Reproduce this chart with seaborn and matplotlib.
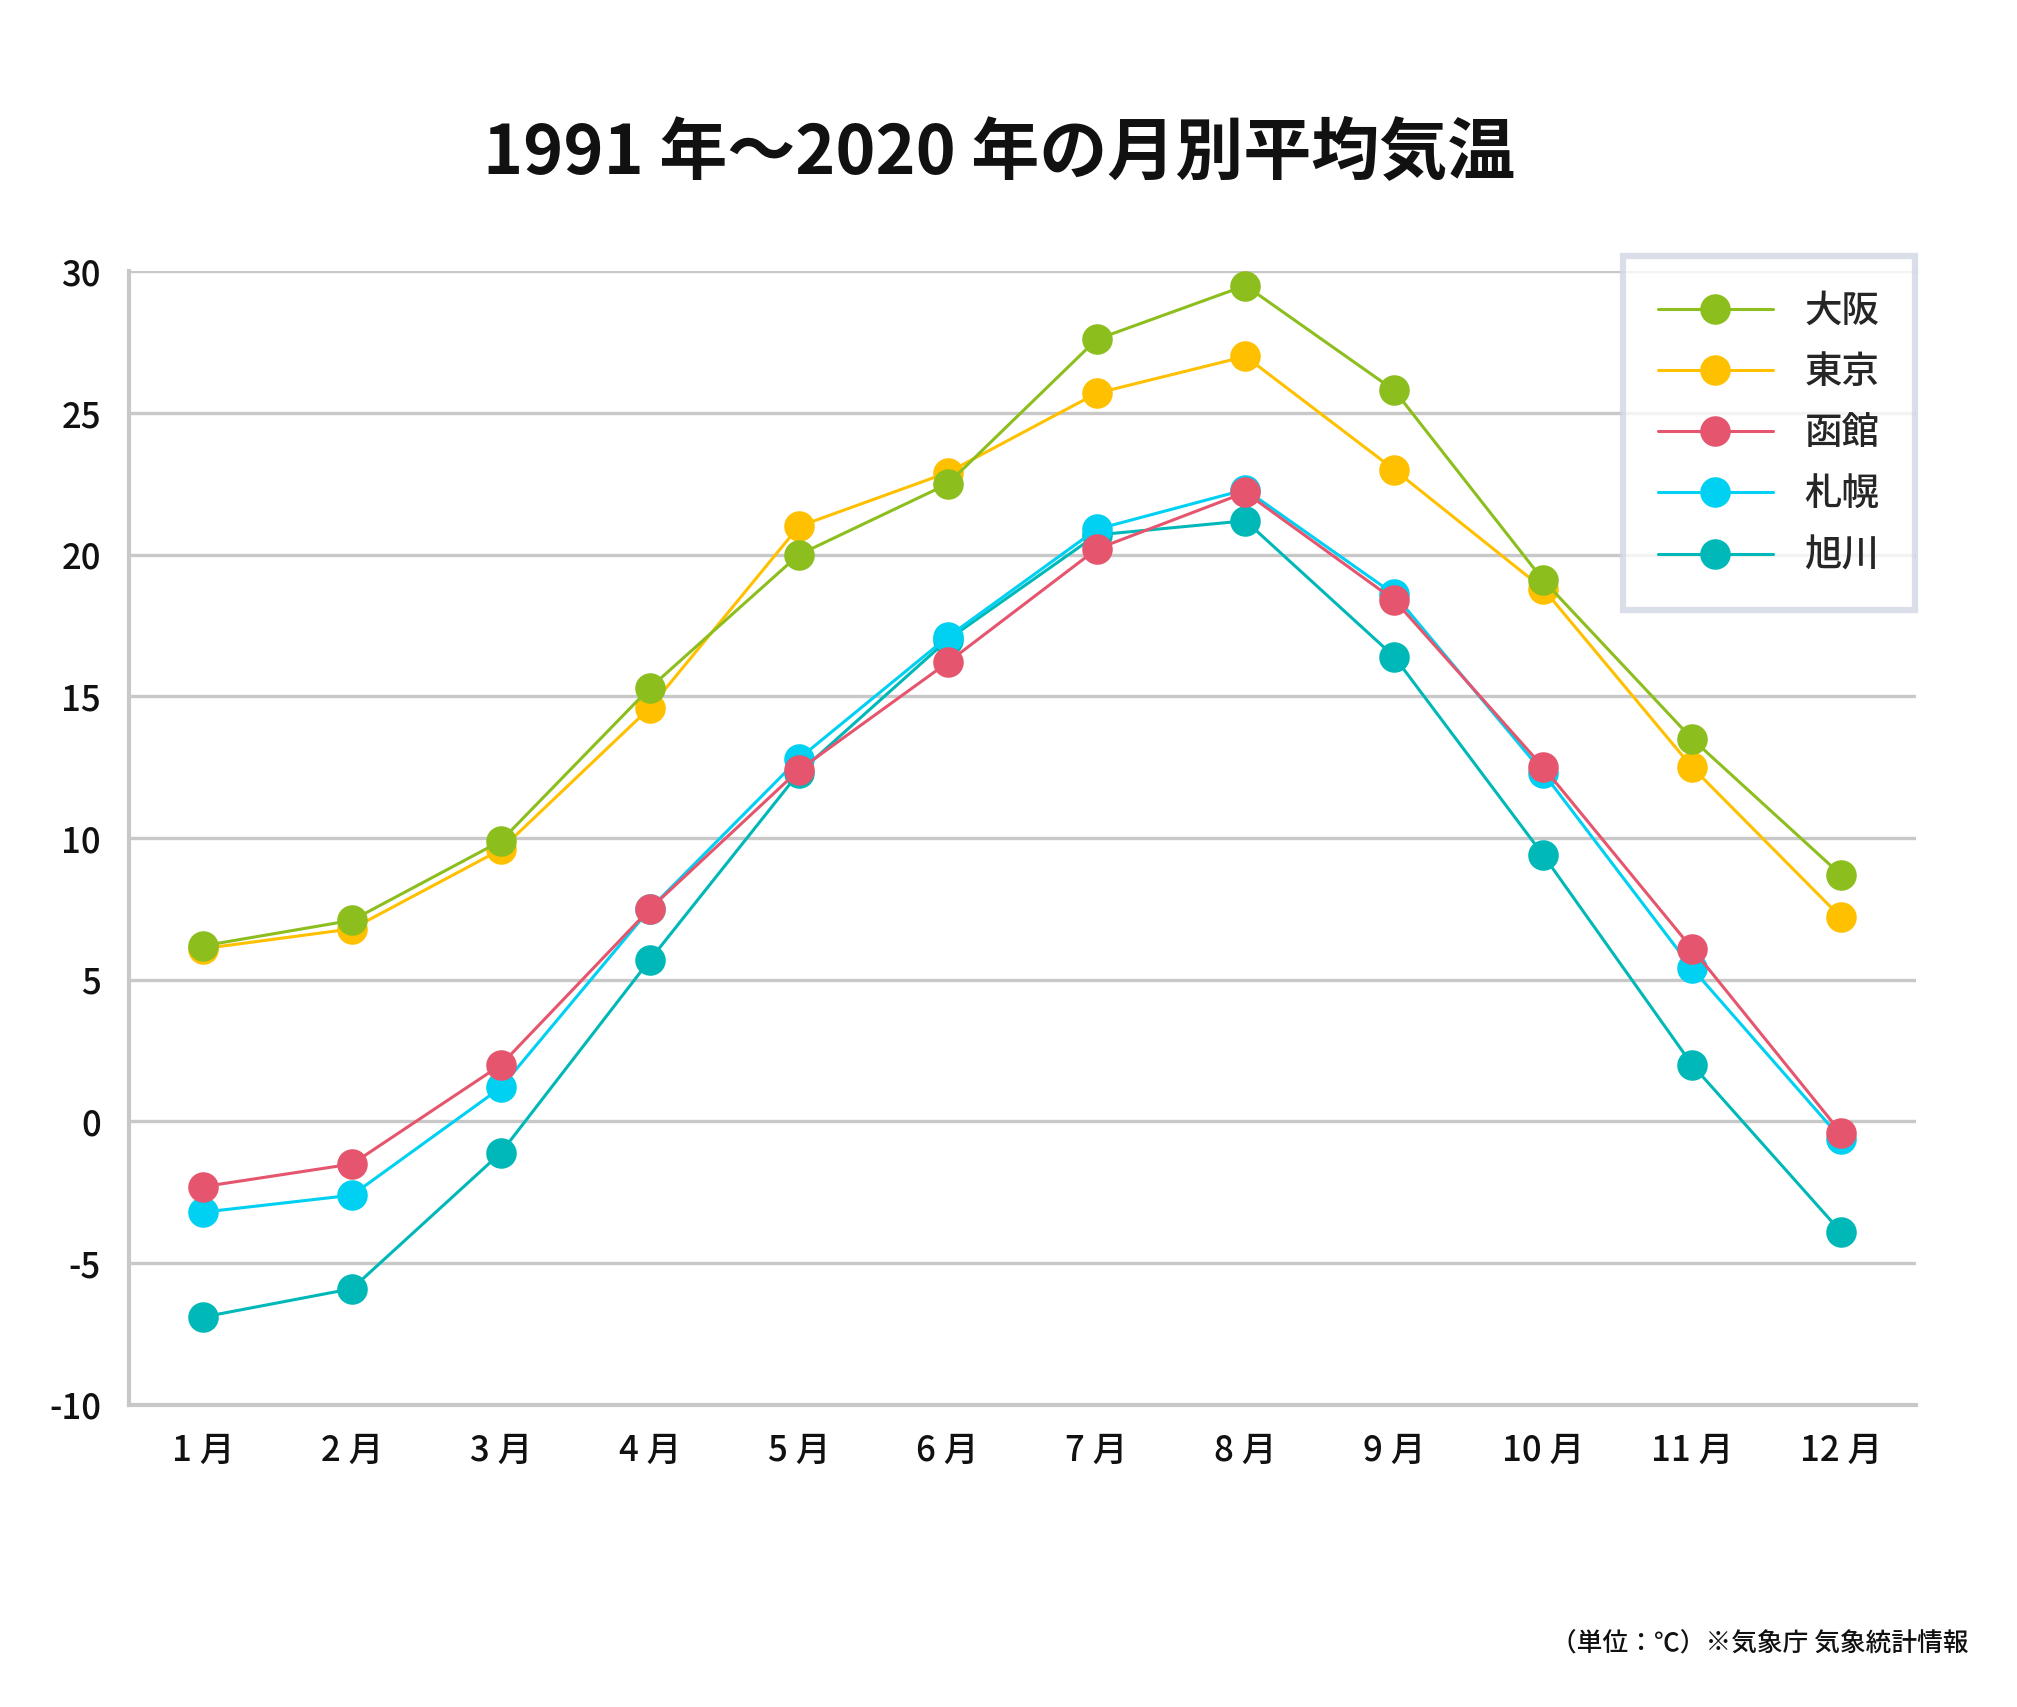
import numpy as np
import pandas as pd
import matplotlib
matplotlib.use("Agg")
import matplotlib.pyplot as plt
import seaborn as sns

months = ["1 月", "2 月", "3 月", "4 月", "5 月", "6 月",
          "7 月", "8 月", "9 月", "10 月", "11 月", "12 月"]
cities = ["大阪", "東京", "函館", "札幌", "旭川"]
osaka = [6.2, 7.1, 9.9, 15.3, 20.0, 22.5, 27.6, 29.5, 25.8, 19.1, 13.5, 8.7]
tokyo = [6.1, 6.8, 9.6, 14.6, 21.0, 22.9, 25.7, 27.0, 23.0, 18.8, 12.5, 7.2]
hakodate = [-2.3, -1.5, 2.0, 7.5, 12.4, 16.2, 20.2, 22.2, 18.4, 12.5, 6.1, -0.4]
sapporo = [-3.2, -2.6, 1.2, 7.5, 12.8, 17.1, 20.9, 22.3, 18.6, 12.3, 5.4, -0.6]
asahikawa = [-6.9, -5.9, -1.1, 5.7, 12.3, 17.0, 20.7, 21.2, 16.4, 9.4, 2.0, -3.9]
colors = ["#8CBE1E", "#FFC000", "#E5566E", "#00D0F2", "#00B8B8"]
yticks = [-10, -5, 0, 5, 10, 15, 20, 25, 30]

series = [osaka, tokyo, hakodate, sapporo, asahikawa]
df = pd.DataFrame({
    "city": np.repeat(cities, len(months)),
    "month": np.tile(np.arange(len(months)), len(cities)),
    "temp": np.concatenate(series),
})

sns.set_theme(style="white")
plt.rcParams["font.family"] = ["Noto Sans CJK JP", "DejaVu Sans"]
plt.rcParams["axes.unicode_minus"] = False

fig = plt.figure(figsize=(20.17, 17.07), dpi=100)
ax = fig.add_axes([0.0638, 0.177, 0.9497 - 0.0638, 0.841 - 0.177])

grid_c = "#C8C8C8"
for yv in yticks[1:]:
    ax.axhline(yv, color=grid_c, lw=2.4, zorder=0)

for city, col in reversed(list(zip(cities, colors))):
    sub = df[df["city"] == city]
    sns.lineplot(data=sub, x="month", y="temp", color=col, marker="o",
                 markersize=22, markeredgewidth=0, linewidth=2.2,
                 label=city, ax=ax, zorder=3)

ax.set_xlim(-0.5, 11.5)
ax.set_ylim(-10, 30)
ax.set_xticks(np.arange(len(months)))
ax.set_xticklabels(months, fontweight="medium")
ax.set_xticks(np.arange(len(months)) + 0.5, minor=True)
ax.set_yticks(yticks)
ax.set_yticklabels([str(v) for v in yticks], fontweight="medium")
ax.tick_params(axis="x", which="major", length=0, pad=20, labelsize=25, colors="#111111")
ax.tick_params(axis="x", which="minor", length=20, width=2.4, direction="in", color=grid_c)
ax.tick_params(axis="y", length=0, pad=20, labelsize=25, colors="#111111")
ax.set_xlabel("")
ax.set_ylabel("")
for s in ["top", "right"]:
    ax.spines[s].set_visible(False)
for s in ["left", "bottom"]:
    ax.spines[s].set_color(grid_c)
    ax.spines[s].set_linewidth(3)

handles, labels = ax.get_legend_handles_labels()
order = [labels.index(c) for c in cities]
leg = ax.legend([handles[i] for i in order], [labels[i] for i in order],
                loc="upper right", bbox_to_anchor=(1915 / 2017, 1 - 256 / 1707),
                bbox_transform=fig.transFigure, borderaxespad=0,
                prop={"size": 27, "weight": "medium"},
                handlelength=3.05, handletextpad=0.85,
                labelspacing=0.62, borderpad=0.95, frameon=True, fancybox=False)
leg.get_frame().set_edgecolor("#D0D6E4")
leg.get_frame().set_linewidth(4.5)
leg.set_zorder(5)

fig.text(0.4952, 0.9096, "1991 年～2020 年の月別平均気温", ha="center", va="center",
         fontsize=49, fontweight="bold", color="#111111")
fig.text(0.9758, 0.0377, "（単位：℃）※気象庁 気象統計情報", ha="right", va="center",
         fontsize=18.5, fontweight="medium", color="#111111")

fig.savefig("out.png", dpi=100, facecolor="white")
